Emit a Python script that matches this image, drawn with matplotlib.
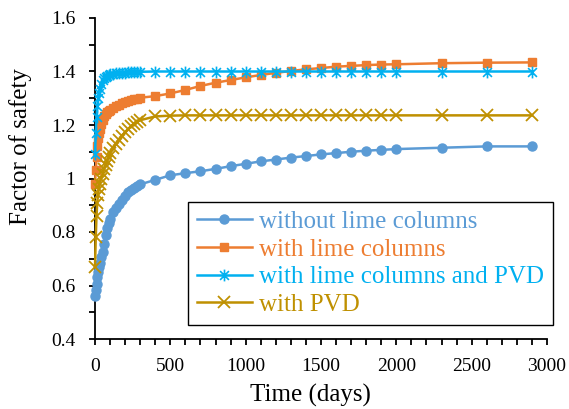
import numpy as np
import matplotlib
matplotlib.use("Agg")
import matplotlib.pyplot as plt
from matplotlib.path import Path
from matplotlib.ticker import MultipleLocator, FuncFormatter

plt.rcParams["font.family"] = ["Liberation Serif", "DejaVu Serif"]

# time steps of the stability analysis (days)
days = [0, 5, 10, 15, 20, 25, 30, 40, 50, 60, 70, 80, 90, 100, 120, 140, 160,
        180, 200, 220, 240, 260, 280, 300, 400, 500, 600, 700, 800, 900, 1000,
        1100, 1200, 1300, 1400, 1500, 1600, 1700, 1800, 1900, 2000, 2300, 2600,
        2900]

fs_no_lime = [0.56, 0.585, 0.605, 0.63, 0.65, 0.67, 0.685, 0.705, 0.725, 0.755,
              0.79, 0.815, 0.835, 0.85, 0.873, 0.89, 0.905, 0.92, 0.935, 0.948,
              0.958, 0.965, 0.972, 0.978, 0.995, 1.012, 1.02, 1.027, 1.036,
              1.046, 1.055, 1.064, 1.071, 1.078, 1.084, 1.09, 1.095, 1.1, 1.104,
              1.107, 1.11, 1.115, 1.12, 1.12]

fs_lime = [0.98, 1.03, 1.08, 1.12, 1.15, 1.17, 1.185, 1.205, 1.22, 1.232,
           1.24, 1.247, 1.252, 1.257, 1.264, 1.27, 1.276, 1.281, 1.285, 1.289,
           1.292, 1.296, 1.299, 1.302, 1.308, 1.318, 1.331, 1.346, 1.358, 1.368,
           1.378, 1.387, 1.395, 1.402, 1.408, 1.413, 1.418, 1.421, 1.424, 1.426,
           1.427, 1.431, 1.433, 1.434]

fs_lime_pvd = [1.09, 1.17, 1.23, 1.27, 1.3, 1.32, 1.335, 1.355, 1.367, 1.375,
               1.38, 1.384, 1.387, 1.389, 1.391, 1.393, 1.394, 1.395, 1.396,
               1.397, 1.398, 1.398, 1.399, 1.399, 1.4, 1.4, 1.4, 1.4, 1.4, 1.4,
               1.4, 1.4, 1.4, 1.4, 1.4, 1.4, 1.4, 1.4, 1.4, 1.4, 1.4, 1.4, 1.4,
               1.4]

fs_pvd = [0.67, 0.78, 0.86, 0.91, 0.94, 0.96, 0.98, 1.0, 1.015, 1.035, 1.05,
          1.065, 1.08, 1.095, 1.115, 1.13, 1.145, 1.16, 1.172, 1.185, 1.195,
          1.205, 1.212, 1.218, 1.232, 1.235, 1.236, 1.236, 1.236, 1.236, 1.236,
          1.236, 1.236, 1.236, 1.236, 1.236, 1.236, 1.236, 1.236, 1.236, 1.236,
          1.236, 1.236, 1.236]

labels = ["without lime columns", "with lime columns",
          "with lime columns and PVD", "with PVD"]
colors = ["#5B9BD5", "#ED7D31", "#00B0F0", "#BF9000"]

# Excel-like asterisk: vertical bar plus an X
star = Path([(0, -1), (0, 1), (-0.75, -0.75), (0.75, 0.75), (-0.75, 0.75), (0.75, -0.75)],
            [Path.MOVETO, Path.LINETO, Path.MOVETO, Path.LINETO, Path.MOVETO, Path.LINETO])

styles = [dict(marker="o", ms=6.5),
          dict(marker="s", ms=6),
          dict(marker=star, ms=8.5, mew=1.2, mfc="none"),
          dict(marker="x", ms=8, mew=1.3)]

fig = plt.figure(figsize=(5.69, 4.09), dpi=100)
ax = fig.add_axes([95 / 569, 70 / 409, 452 / 569, 321 / 409])

for series, lab, col, st in zip([fs_no_lime, fs_lime, fs_lime_pvd, fs_pvd], labels, colors, styles):
    ax.plot(days, series, color=col, lw=1.8, label=lab, clip_on=False, **st)

ax.set_xlim(0, 3000)
ax.set_ylim(0.4, 1.6)
ax.xaxis.set_major_locator(MultipleLocator(500))
ax.xaxis.set_minor_locator(MultipleLocator(100))
ax.yaxis.set_major_locator(MultipleLocator(0.2))
ax.yaxis.set_minor_locator(MultipleLocator(0.1))
ax.yaxis.set_major_formatter(FuncFormatter(lambda v, p: f"{v:g}"))

for s in ["top", "right"]:
    ax.spines[s].set_visible(False)
for s in ["left", "bottom"]:
    ax.spines[s].set_linewidth(1.3)
    ax.spines[s].set_zorder(0.5)

ax.tick_params(which="both", direction="out", length=4, width=1.3, labelsize=14)
ax.tick_params(axis="x", pad=10)
ax.tick_params(axis="y", pad=10)

ax.set_xlabel("Time (days)", fontsize=18)
ax.set_ylabel("Factor of safety", fontsize=18)
ax.xaxis.set_label_coords(0.476, -0.14)
ax.yaxis.set_label_coords(-0.14, 0.60)

leg = ax.legend(loc="upper left", bbox_to_anchor=(188 / 569, 1 - 202 / 409),
                bbox_transform=fig.transFigure, fontsize=18, frameon=True,
                fancybox=False, framealpha=1, edgecolor="black",
                borderpad=0.35, labelspacing=0.2, handlelength=2.2,
                handletextpad=0.3, borderaxespad=0)
leg.get_frame().set_linewidth(1.0)
for txt, col in zip(leg.get_texts(), colors):
    txt.set_color(col)

fig.savefig("out.png", dpi=100)
